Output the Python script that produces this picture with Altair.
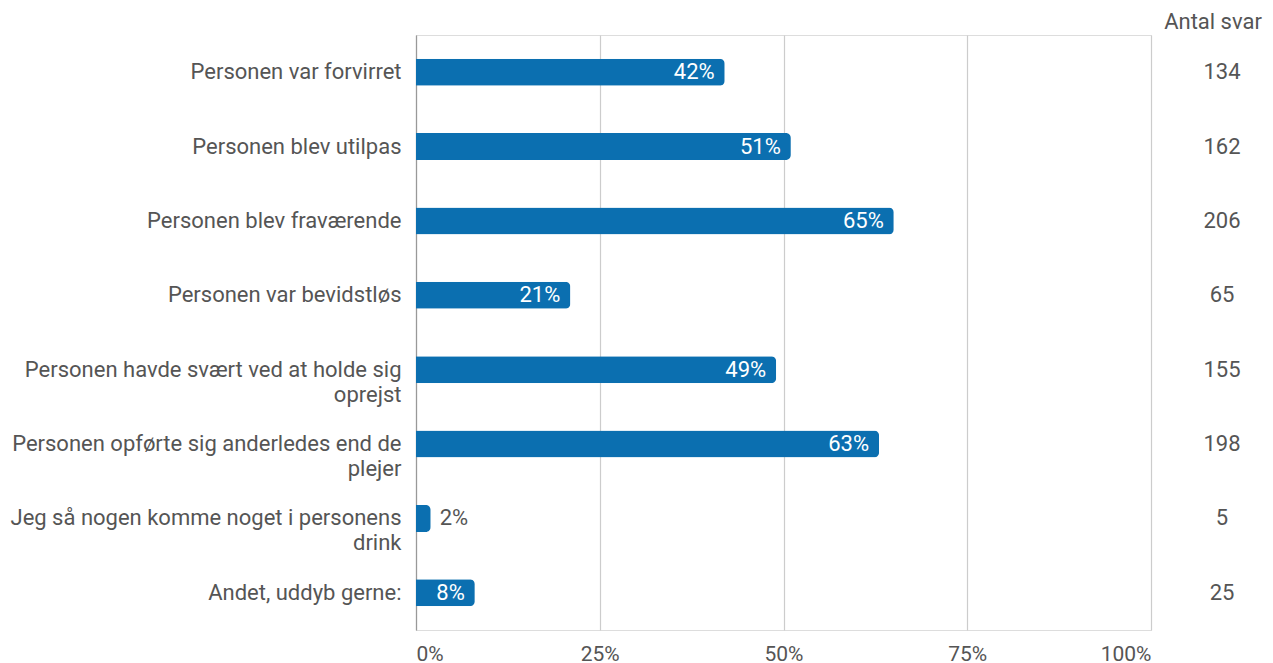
import altair as alt
import pandas as pd

categories = [
    "Personen var forvirret",
    "Personen blev utilpas",
    "Personen blev fraværende",
    "Personen var bevidstløs",
    "Personen havde svært ved at holde sig\noprejst",
    "Personen opførte sig anderledes end de\nplejer",
    "Jeg så nogen komme noget i personens\ndrink",
    "Andet, uddyb gerne:",
]
percent = [42, 51, 65, 21, 49, 63, 2, 8]
counts = [134, 162, 206, 65, 155, 198, 5, 25]
count_header = "Antal svar"

df = pd.DataFrame({"cat": categories, "pct": [p / 100 for p in percent],
                   "label": [f"{p}%" for p in percent], "n": counts})

BLUE = "#0b6fb0"
GREY = "#555555"
FONT = "Roboto"
FS = 22

y_enc = alt.Y("cat:N", sort=categories, title=None,
              scale=alt.Scale(paddingInner=0.0, paddingOuter=0.0),
              axis=alt.Axis(labelExpr="split(datum.label, '\\n')",
                            labelFontSize=FS, labelColor=GREY, labelFont=FONT,
                            labelLimit=0, labelPadding=15, labelLineHeight=25,
                            ticks=False, domain=True, domainColor="#999999",
                            domainWidth=1.2))
x_enc = alt.X("pct:Q", title=None,
              scale=alt.Scale(domain=[0, 1], nice=False),
              axis=alt.Axis(format="%", values=[0, 0.25, 0.5, 0.75, 1],
                            labelFontSize=21, labelColor=GREY, labelFont=FONT,
                            labelPadding=13, ticks=False, domain=False,
                            grid=True, gridColor="#cccccc", gridWidth=1.2))

base = alt.Chart(df)

bars = base.mark_bar(color=BLUE, size=27, cornerRadiusEnd=5).encode(x=x_enc, y=y_enc)

inside = base.transform_filter("datum.pct >= 0.05").mark_text(
    align="right", baseline="middle", dx=-10, color="white", fontSize=FS, font=FONT
).encode(x="pct:Q", y=alt.Y("cat:N", sort=categories), text="label:N")

outside = base.transform_filter("datum.pct < 0.05").mark_text(
    align="left", baseline="middle", dx=9, color=GREY, fontSize=FS, font=FONT
).encode(x="pct:Q", y=alt.Y("cat:N", sort=categories), text="label:N")

count_text = base.mark_text(
    align="center", baseline="middle", color=GREY, fontSize=FS, font=FONT
).encode(x=alt.value(806), y=alt.Y("cat:N", sort=categories), text="n:Q")

header = alt.Chart(pd.DataFrame({"h": [count_header]})).mark_text(
    align="center", baseline="middle", color=GREY, fontSize=FS, font=FONT
).encode(x=alt.value(797), y=alt.value(-13), text="h:N")

chart = alt.layer(bars, inside, outside, count_text, header).properties(
    width=735, height=595,
    autosize=alt.AutoSizeParams(type="none"),
    padding={"left": 408, "top": 27, "right": 113, "bottom": 40},
).configure_view(stroke=None).configure(font=FONT)

chart.save("out.html", embed_options={"renderer": "svg", "actions": False})
